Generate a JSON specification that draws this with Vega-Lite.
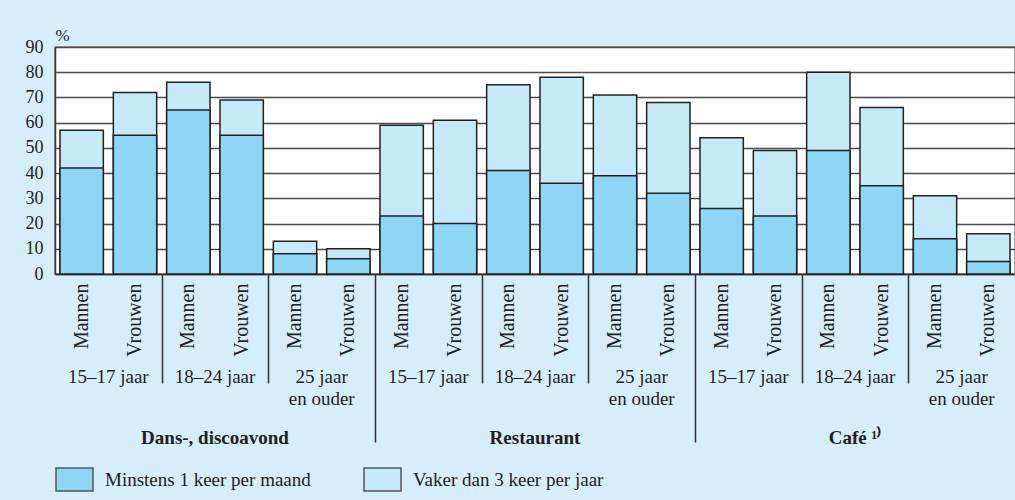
{
  "$schema": "https://vega.github.io/schema/vega-lite/v6.json",
  "width": 960,
  "height": 227,
  "autosize": {"type": "none"},
  "padding": {"left": 55, "top": 47, "right": 0, "bottom": 226},
  "background": "#d6edfa",
  "config": {
    "view": {"fill": "white", "stroke": "#888", "strokeWidth": 1.5},
    "font": "Liberation Serif",
    "axis": {"labelFont": "Liberation Serif", "labelColor": "#231f20", "labelFontSize": 19, "titleFont": "Liberation Serif", "titleColor": "#231f20", "labelOverlap": false, "labelBound": false, "labelFlush": false, "labelLimit": 400},
    "legend": {"labelFont": "Liberation Serif", "labelColor": "#231f20", "labelLimit": 400}
  },
  "data": {"values": [
    {"bar": "D1M", "category": "Dans-, discoavond", "age": "15–17 jaar", "gender": "Mannen", "frequency": "Vaker dan 3 keer per jaar", "pct": 57},
    {"bar": "D1V", "category": "Dans-, discoavond", "age": "15–17 jaar", "gender": "Vrouwen", "frequency": "Vaker dan 3 keer per jaar", "pct": 72},
    {"bar": "D2M", "category": "Dans-, discoavond", "age": "18–24 jaar", "gender": "Mannen", "frequency": "Vaker dan 3 keer per jaar", "pct": 76},
    {"bar": "D2V", "category": "Dans-, discoavond", "age": "18–24 jaar", "gender": "Vrouwen", "frequency": "Vaker dan 3 keer per jaar", "pct": 69},
    {"bar": "D3M", "category": "Dans-, discoavond", "age": "25 jaar en ouder", "gender": "Mannen", "frequency": "Vaker dan 3 keer per jaar", "pct": 13},
    {"bar": "D3V", "category": "Dans-, discoavond", "age": "25 jaar en ouder", "gender": "Vrouwen", "frequency": "Vaker dan 3 keer per jaar", "pct": 10},
    {"bar": "R1M", "category": "Restaurant", "age": "15–17 jaar", "gender": "Mannen", "frequency": "Vaker dan 3 keer per jaar", "pct": 59},
    {"bar": "R1V", "category": "Restaurant", "age": "15–17 jaar", "gender": "Vrouwen", "frequency": "Vaker dan 3 keer per jaar", "pct": 61},
    {"bar": "R2M", "category": "Restaurant", "age": "18–24 jaar", "gender": "Mannen", "frequency": "Vaker dan 3 keer per jaar", "pct": 75},
    {"bar": "R2V", "category": "Restaurant", "age": "18–24 jaar", "gender": "Vrouwen", "frequency": "Vaker dan 3 keer per jaar", "pct": 78},
    {"bar": "R3M", "category": "Restaurant", "age": "25 jaar en ouder", "gender": "Mannen", "frequency": "Vaker dan 3 keer per jaar", "pct": 71},
    {"bar": "R3V", "category": "Restaurant", "age": "25 jaar en ouder", "gender": "Vrouwen", "frequency": "Vaker dan 3 keer per jaar", "pct": 68},
    {"bar": "C1M", "category": "Café", "age": "15–17 jaar", "gender": "Mannen", "frequency": "Vaker dan 3 keer per jaar", "pct": 54},
    {"bar": "C1V", "category": "Café", "age": "15–17 jaar", "gender": "Vrouwen", "frequency": "Vaker dan 3 keer per jaar", "pct": 49},
    {"bar": "C2M", "category": "Café", "age": "18–24 jaar", "gender": "Mannen", "frequency": "Vaker dan 3 keer per jaar", "pct": 80},
    {"bar": "C2V", "category": "Café", "age": "18–24 jaar", "gender": "Vrouwen", "frequency": "Vaker dan 3 keer per jaar", "pct": 66},
    {"bar": "C3M", "category": "Café", "age": "25 jaar en ouder", "gender": "Mannen", "frequency": "Vaker dan 3 keer per jaar", "pct": 31},
    {"bar": "C3V", "category": "Café", "age": "25 jaar en ouder", "gender": "Vrouwen", "frequency": "Vaker dan 3 keer per jaar", "pct": 16},
    {"bar": "D1M", "category": "Dans-, discoavond", "age": "15–17 jaar", "gender": "Mannen", "frequency": "Minstens 1 keer per maand", "pct": 42},
    {"bar": "D1V", "category": "Dans-, discoavond", "age": "15–17 jaar", "gender": "Vrouwen", "frequency": "Minstens 1 keer per maand", "pct": 55},
    {"bar": "D2M", "category": "Dans-, discoavond", "age": "18–24 jaar", "gender": "Mannen", "frequency": "Minstens 1 keer per maand", "pct": 65},
    {"bar": "D2V", "category": "Dans-, discoavond", "age": "18–24 jaar", "gender": "Vrouwen", "frequency": "Minstens 1 keer per maand", "pct": 55},
    {"bar": "D3M", "category": "Dans-, discoavond", "age": "25 jaar en ouder", "gender": "Mannen", "frequency": "Minstens 1 keer per maand", "pct": 8},
    {"bar": "D3V", "category": "Dans-, discoavond", "age": "25 jaar en ouder", "gender": "Vrouwen", "frequency": "Minstens 1 keer per maand", "pct": 6},
    {"bar": "R1M", "category": "Restaurant", "age": "15–17 jaar", "gender": "Mannen", "frequency": "Minstens 1 keer per maand", "pct": 23},
    {"bar": "R1V", "category": "Restaurant", "age": "15–17 jaar", "gender": "Vrouwen", "frequency": "Minstens 1 keer per maand", "pct": 20},
    {"bar": "R2M", "category": "Restaurant", "age": "18–24 jaar", "gender": "Mannen", "frequency": "Minstens 1 keer per maand", "pct": 41},
    {"bar": "R2V", "category": "Restaurant", "age": "18–24 jaar", "gender": "Vrouwen", "frequency": "Minstens 1 keer per maand", "pct": 36},
    {"bar": "R3M", "category": "Restaurant", "age": "25 jaar en ouder", "gender": "Mannen", "frequency": "Minstens 1 keer per maand", "pct": 39},
    {"bar": "R3V", "category": "Restaurant", "age": "25 jaar en ouder", "gender": "Vrouwen", "frequency": "Minstens 1 keer per maand", "pct": 32},
    {"bar": "C1M", "category": "Café", "age": "15–17 jaar", "gender": "Mannen", "frequency": "Minstens 1 keer per maand", "pct": 26},
    {"bar": "C1V", "category": "Café", "age": "15–17 jaar", "gender": "Vrouwen", "frequency": "Minstens 1 keer per maand", "pct": 23},
    {"bar": "C2M", "category": "Café", "age": "18–24 jaar", "gender": "Mannen", "frequency": "Minstens 1 keer per maand", "pct": 49},
    {"bar": "C2V", "category": "Café", "age": "18–24 jaar", "gender": "Vrouwen", "frequency": "Minstens 1 keer per maand", "pct": 35},
    {"bar": "C3M", "category": "Café", "age": "25 jaar en ouder", "gender": "Mannen", "frequency": "Minstens 1 keer per maand", "pct": 14},
    {"bar": "C3V", "category": "Café", "age": "25 jaar en ouder", "gender": "Vrouwen", "frequency": "Minstens 1 keer per maand", "pct": 5}
  ]},
  "layer": [
    {
      "mark": {"type": "bar", "stroke": "#222", "strokeWidth": 1.5},
      "encoding": {
        "x": {"field": "bar", "type": "nominal", "sort": null,
          "scale": {"paddingInner": 0.1875, "paddingOuter": 0.09375},
          "axis": {"orient": "bottom", "title": null, "labelExpr": "substring(datum.value,2,3)=='M' ? 'Mannen' : 'Vrouwen'", "labelFontSize": 20, "labelAngle": 270, "labelAlign": "right", "labelBaseline": "middle", "labelPadding": 9, "ticks": false, "domain": true, "domainColor": "#333", "domainWidth": 1.5, "grid": false}},
        "y": {"field": "pct", "type": "quantitative", "stack": null,
          "scale": {"domain": [0, 90], "nice": false},
          "axis": {"title": "%", "titleAngle": 0, "titleAlign": "left", "titleBaseline": "alphabetic", "titleX": 0, "titleY": -7, "titleFontSize": 17, "titleFontWeight": "normal", "values": [0, 10, 20, 30, 40, 50, 60, 70, 80, 90], "labelFontSize": 18, "labelPadding": 12, "ticks": false, "domain": true, "domainColor": "#333", "domainWidth": 1.5, "grid": true, "gridColor": "#4a4a4a", "gridWidth": 1.5}},
        "color": {"field": "frequency", "type": "nominal",
          "scale": {"domain": ["Minstens 1 keer per maand", "Vaker dan 3 keer per jaar"], "range": ["#8dd6f5", "#c6e9f8"]},
          "legend": {"orient": "bottom", "direction": "horizontal", "title": null, "symbolType": "M-1,-0.62H1V0.62H-1Z", "symbolSize": 1369, "symbolStrokeColor": "#555", "symbolStrokeWidth": 1.5, "symbolOpacity": 1, "labelFontSize": 19, "labelOffset": 11, "labelLimit": 400, "columnPadding": 50, "offset": 13}}
      }
    },
    {
      "mark": {"type": "point", "opacity": 0},
      "encoding": {
        "x": {"field": "bar", "type": "nominal", "sort": null,
          "axis": {"orient": "bottom", "title": null, "labels": false, "domain": false, "ticks": true, "grid": false, "bandPosition": 0, "tickOffset": -5, "tickColor": "#333", "tickWidth": 1.5,
            "tickSize": {"condition": {"test": "substring(datum.value,1,2)=='1'", "value": 168}, "value": 109},
            "tickOpacity": {"condition": {"test": "substring(datum.value,2,3)=='V' || datum.value=='D1M'", "value": 0}, "value": 1}}}
      }
    },
    {
      "mark": {"type": "point", "opacity": 0},
      "encoding": {
        "x": {"field": "bar", "type": "nominal", "sort": null,
          "axis": {"orient": "bottom", "title": null, "labelExpr": "substring(datum.value,2,3)=='V' ? '' : substring(datum.value,1,2)=='1' ? '15–17 jaar' : substring(datum.value,1,2)=='2' ? '18–24 jaar' : ['25 jaar', 'en ouder']", "labelAngle": 0, "labelAlign": "center", "labelBaseline": "alphabetic", "labelLineHeight": 22, "labelOffset": 26.67, "labelPadding": 8, "offset": 100, "ticks": false, "domain": false, "grid": false}}
      }
    },
    {
      "mark": {"type": "point", "opacity": 0},
      "encoding": {
        "x": {"field": "bar", "type": "nominal", "sort": null,
          "axis": {"orient": "bottom", "title": null, "labelExpr": "datum.value=='D2M' ? 'Dans-, discoavond' : datum.value=='R2M' ? 'Restaurant' : datum.value=='C2M' ? 'Café ¹⁾' : ''", "labelFontWeight": "bold", "labelAngle": 0, "labelAlign": "center", "labelBaseline": "alphabetic", "labelOffset": 26.67, "labelPadding": 9, "offset": 160, "ticks": false, "domain": false, "grid": false}}
      }
    }
  ],
  "resolve": {"axis": {"x": "independent"}}
}
